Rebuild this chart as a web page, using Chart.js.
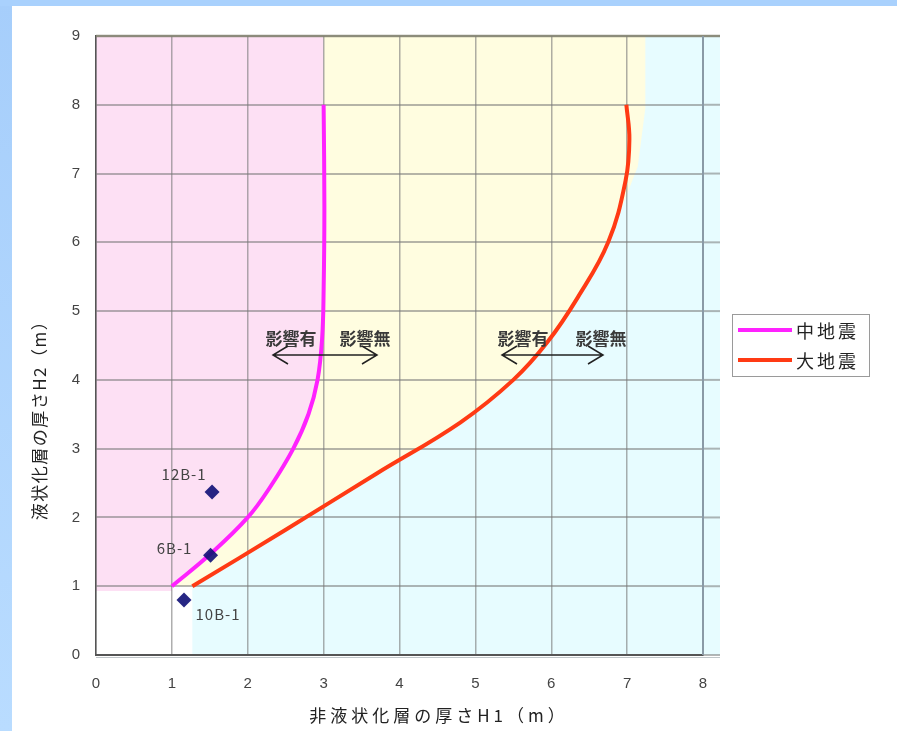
<!DOCTYPE html>
<html>
<head>
<meta charset="utf-8">
<script src="https://cdn.jsdelivr.net/npm/chart.js@4/dist/chart.umd.min.js"></script>
<style>
  html, body { margin: 0; padding: 0; }
  body { width: 897px; height: 731px; overflow: hidden; background: #ffffff; position: relative; }
  #frameL { position: absolute; left: 0; top: 0; width: 12px; height: 731px; background: linear-gradient(#a6cefb, #b9dcff); }
  #frameT { position: absolute; left: 0; top: 0; width: 897px; height: 6px; background: #a9d1fd; }
  #wrap { position: absolute; left: 0; top: 0; width: 897px; height: 731px; }
</style>
</head>
<body>
<div id="frameL"></div>
<div id="frameT"></div>
<div id="wrap"><canvas id="c" width="897" height="731"></canvas></div>
<script>
// Axis ticks
const xTicks = [0, 1, 2, 3, 4, 5, 6, 7, 8];
const yTicks = [0, 1, 2, 3, 4, 5, 6, 7, 8, 9];

// Boundary curves: H1 (non-liquefied layer) vs H2 (liquefied layer)
const seriesNames = ['中地震', '大地震'];
const midQuakeH1 = [1.00, 1.50, 2.00, 2.30, 2.60, 2.80, 2.92, 2.98, 3.00, 3.01, 3.00];
const midQuakeH2 = [1.00, 1.46, 2.00, 2.45, 3.00, 3.50, 4.00, 4.60, 5.30, 6.50, 8.00];
const bigQuakeH1 = [1.27, 2.50, 3.70, 4.80, 5.50, 5.95, 6.35, 6.75, 6.98, 7.03, 6.99];
const bigQuakeH2 = [1.00, 1.82, 2.64, 3.38, 4.00, 4.55, 5.20, 6.00, 6.90, 7.50, 8.00];

// Boring sites
const siteNames = ['12B-1', '6B-1', '10B-1'];
const siteH1 = [1.53, 1.51, 1.16];
const siteH2 = [2.37, 1.45, 0.80];

// Annotation words
const noteLabels = ['影響有', '影響無'];
const axisTitleX = '非液状化層の厚さH1（m）';
const axisTitleY = '液状化層の厚さH2（m）';

const MID_COLOR = '#ff22ff';
const BIG_COLOR = '#ff3a14';
const SITE_COLOR = 'rgba(20,20,120,0.92)';
const CJK = '"Noto Sans CJK JP", "Noto Sans", sans-serif';

const toPts = (xs, ys) => xs.map((x, i) => ({ x, y: ys[i] }));

// Trace a spline dataset between two indices using its bezier control points
function traceCurve(ctx, pts, from, to) {
  if (from < to) {
    for (let i = from + 1; i <= to; i++) {
      const p = pts[i - 1], c = pts[i];
      ctx.bezierCurveTo(p.cp2x, p.cp2y, c.cp1x, c.cp1y, c.x, c.y);
    }
  } else {
    for (let i = from; i > to; i--) {
      const c = pts[i], p = pts[i - 1];
      ctx.bezierCurveTo(c.cp1x, c.cp1y, p.cp2x, p.cp2y, p.x, p.y);
    }
  }
}

const zonePlugin = {
  id: 'zones',
  beforeDraw(chart) {
    const { ctx, chartArea } = chart;
    const xs = chart.scales.x, ys = chart.scales.y;
    const px = v => xs.getPixelForValue(v), py = v => ys.getPixelForValue(v);
    const midMeta = chart.getDatasetMeta(1), bigMeta = chart.getDatasetMeta(2);
    midMeta.dataset.updateControlPoints(chartArea, 'x');
    bigMeta.dataset.updateControlPoints(chartArea, 'x');
    const mid = midMeta.data, big = bigMeta.data;
    const extRight = 720;

    ctx.save();
    // no-effect zone (cyan)
    ctx.fillStyle = '#e7fcff';
    ctx.fillRect(px(1.27), py(9), extRight - px(1.27), py(0) - py(9));

    // medium-quake affected zone (pink)
    ctx.fillStyle = '#fde0f4';
    ctx.beginPath();
    ctx.moveTo(px(0), py(9));
    ctx.lineTo(px(3), py(9));
    ctx.lineTo(mid[mid.length - 1].x, mid[mid.length - 1].y);
    traceCurve(ctx, mid, mid.length - 1, 0);
    ctx.lineTo(px(1), py(0.93));
    ctx.lineTo(px(0), py(0.93));
    ctx.closePath();
    ctx.fill();

    // large-quake affected zone (yellow)
    const k = 7;
    ctx.fillStyle = '#fffde0';
    ctx.beginPath();
    ctx.moveTo(px(3), py(9));
    ctx.lineTo(px(7.24), py(9));
    ctx.lineTo(px(7.24), py(7.95));
    ctx.lineTo(px(7.14), py(7.1));
    ctx.lineTo(big[k].x, big[k].y);
    traceCurve(ctx, big, k, 0);
    ctx.lineTo(mid[0].x, mid[0].y);
    traceCurve(ctx, mid, 0, mid.length - 1);
    ctx.closePath();
    ctx.fill();

    // grid continuation past the last x tick
    ctx.strokeStyle = 'rgba(120,120,120,0.55)';
    ctx.lineWidth = 2;
    yTicks.forEach(t => {
      ctx.beginPath();
      ctx.moveTo(px(8), py(t));
      ctx.lineTo(extRight, py(t));
      ctx.stroke();
    });
    ctx.restore();
  },
  afterDatasetsDraw(chart) {
    const { ctx } = chart;
    const xs = chart.scales.x, ys = chart.scales.y;
    const px = v => xs.getPixelForValue(v), py = v => ys.getPixelForValue(v);
    ctx.save();

    // frame lines
    ctx.strokeStyle = 'rgba(130,130,110,0.8)';
    ctx.lineWidth = 2.5;
    ctx.beginPath(); ctx.moveTo(px(0), py(9)); ctx.lineTo(720, py(9)); ctx.stroke();
    ctx.strokeStyle = '#8a9aa6';
    ctx.lineWidth = 2;
    ctx.beginPath(); ctx.moveTo(px(8), py(9)); ctx.lineTo(px(8), py(0)); ctx.stroke();
    ctx.strokeStyle = 'rgba(150,160,165,0.6)';
    ctx.lineWidth = 1;
    ctx.beginPath(); ctx.moveTo(px(0), py(0) + 2.5); ctx.lineTo(720, py(0) + 2.5); ctx.stroke();

    // site labels
    ctx.fillStyle = '#444';
    ctx.font = '15px ' + CJK;
    ctx.letterSpacing = '1px';
    ctx.textBaseline = 'middle';
    const offs = [[-28, -18], [-36, -7], [34, 14]];
    ctx.textAlign = 'center';
    siteNames.forEach((n, i) => {
      ctx.fillText(n, px(siteH1[i]) + offs[i][0], py(siteH2[i]) + offs[i][1]);
    });

    // affected / unaffected arrows across each curve
    ctx.letterSpacing = '0px';
    ctx.font = 'bold 17px ' + CJK;
    ctx.fillStyle = '#3a3a3a';
    const notes = [
      { x1: 273, x2: 377, t1: 291, t2: 365 },
      { x1: 502, x2: 603, t1: 523, t2: 601 }
    ];
    const ay = 355, ty = 339;
    notes.forEach(n => {
      ctx.fillText(noteLabels[0], n.t1, ty);
      ctx.fillText(noteLabels[1], n.t2, ty);
      ctx.strokeStyle = '#222';
      ctx.lineWidth = 1.5;
      ctx.beginPath();
      ctx.moveTo(n.x1, ay); ctx.lineTo(n.x2, ay);
      ctx.moveTo(n.x1 + 15, ay - 9); ctx.lineTo(n.x1, ay); ctx.lineTo(n.x1 + 15, ay + 9);
      ctx.moveTo(n.x2 - 15, ay - 9); ctx.lineTo(n.x2, ay); ctx.lineTo(n.x2 - 15, ay + 9);
      ctx.stroke();
    });

    // legend
    const lx = 732, ly = 314, lw = 137, lh = 62;
    ctx.fillStyle = '#ffffff';
    ctx.fillRect(lx, ly, lw, lh);
    ctx.strokeStyle = '#9a9a9a';
    ctx.lineWidth = 1;
    ctx.strokeRect(lx + 0.5, ly + 0.5, lw, lh);
    [1, 2].forEach((di, j) => {
      const ds = chart.data.datasets[di];
      const yy = ly + 16 + j * 30;
      ctx.strokeStyle = ds.borderColor;
      ctx.lineWidth = 4;
      ctx.beginPath(); ctx.moveTo(lx + 6, yy); ctx.lineTo(lx + 60, yy); ctx.stroke();
      ctx.fillStyle = '#222';
      ctx.font = '18px ' + CJK;
      ctx.letterSpacing = '3px';
      ctx.textAlign = 'left';
      ctx.fillText(ds.label, lx + 64, yy + 1);
    });

    // axis titles
    ctx.fillStyle = '#222';
    ctx.font = '17px ' + CJK;
    ctx.letterSpacing = '4px';
    ctx.textAlign = 'center';
    ctx.fillText(axisTitleX, 439, 716);
    ctx.save();
    ctx.translate(40, 416);
    ctx.rotate(-Math.PI / 2);
    ctx.letterSpacing = '1.5px';
    ctx.fillText(axisTitleY, 0, 0);
    ctx.restore();
    ctx.restore();
  }
};

Chart.defaults.font.family = '"Liberation Sans", Arial, sans-serif';

new Chart(document.getElementById('c'), {
  type: 'scatter',
  data: {
    datasets: [
      {
        label: 'sites',
        data: toPts(siteH1, siteH2),
        pointStyle: 'rectRot',
        pointRadius: 7.5,
        backgroundColor: SITE_COLOR,
        borderColor: SITE_COLOR,
        borderWidth: 0
      },
      {
        label: seriesNames[0],
        data: toPts(midQuakeH1, midQuakeH2),
        showLine: true,
        borderColor: MID_COLOR,
        borderWidth: 4,
        pointRadius: 0,
        tension: 0.4,
        fill: false
      },
      {
        label: seriesNames[1],
        data: toPts(bigQuakeH1, bigQuakeH2),
        showLine: true,
        borderColor: BIG_COLOR,
        borderWidth: 4,
        pointRadius: 0,
        tension: 0.4,
        fill: false
      }
    ]
  },
  options: {
    responsive: false,
    animation: false,
    devicePixelRatio: 1,
    layout: { padding: { left: 0, top: 36, right: 194, bottom: 0 } },
    plugins: { legend: { display: false }, tooltip: { enabled: false } },
    scales: {
      x: {
        type: 'linear',
        min: 0, max: 8,
        afterBuildTicks: s => { s.ticks = xTicks.map(v => ({ value: v })); },
        afterFit: s => { s.height = 76; },
        ticks: { color: '#444', font: { size: 15 }, padding: 20 },
        grid: { color: 'rgba(120,120,120,0.6)', lineWidth: 1.5, drawTicks: false },
        border: { display: true, color: '#555', width: 2 }
      },
      y: {
        type: 'linear',
        min: 0, max: 9,
        afterBuildTicks: s => { s.ticks = yTicks.map(v => ({ value: v })); },
        afterFit: s => { s.width = 96; },
        ticks: { color: '#444', font: { size: 15 }, padding: 16 },
        grid: { color: 'rgba(120,120,120,0.55)', lineWidth: 2, drawTicks: false },
        border: { display: true, color: '#555', width: 1.5 }
      }
    }
  },
  plugins: [zonePlugin]
});
</script>
</body>
</html>
